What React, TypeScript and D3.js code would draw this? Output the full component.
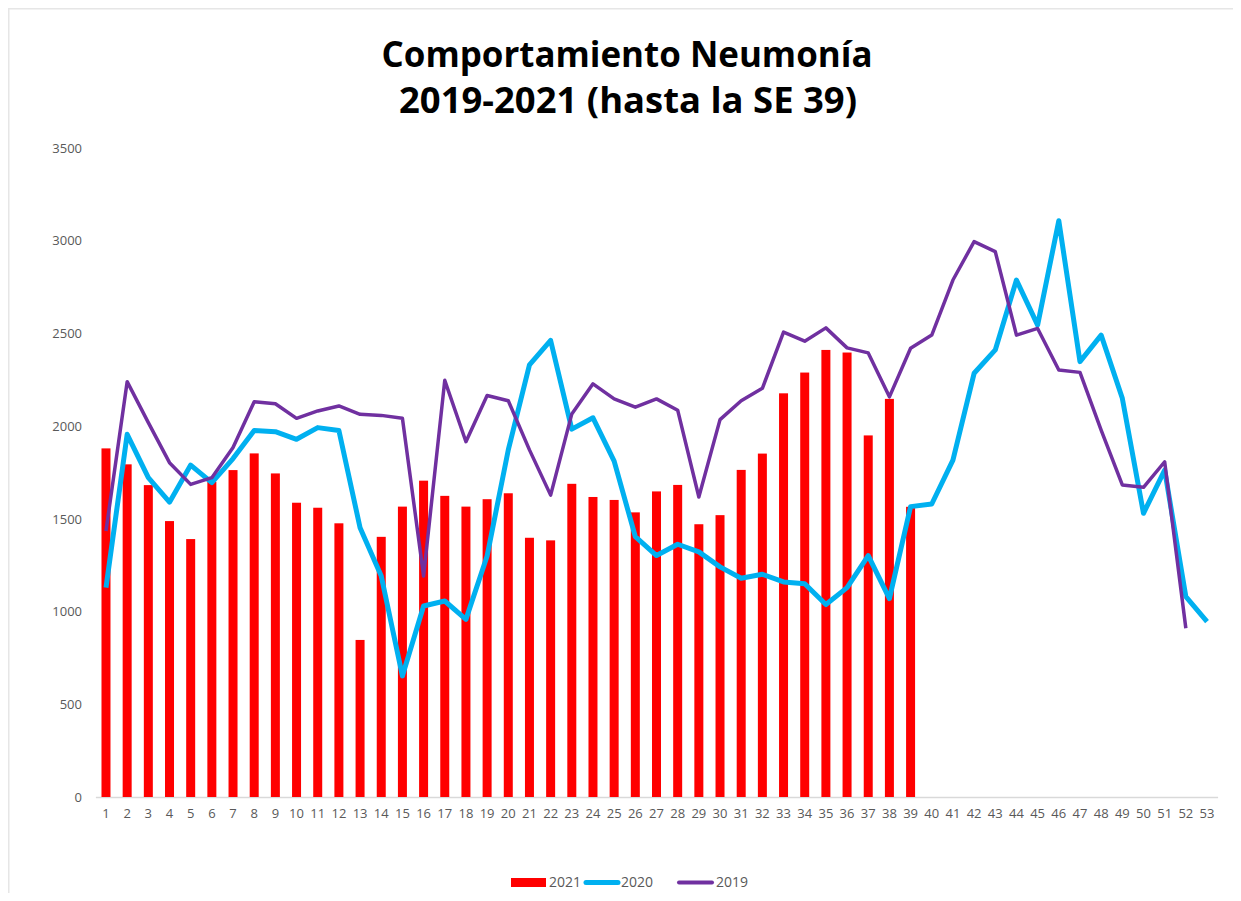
import { useEffect, useRef } from "react";
import * as d3 from "d3";

const weeks = d3.range(1, 54).map(String);

const values2021 = [
  1880, 1794, 1682, 1488, 1391, 1700, 1763, 1853, 1745, 1587, 1560, 1476, 847, 1403, 1566, 1706,
  1624, 1566, 1606, 1638, 1398, 1384, 1689, 1618, 1602, 1535, 1648, 1683, 1471, 1520, 1764, 1852,
  2177, 2289, 2411, 2397, 1950, 2147, 1565,
];

const values2020 = [
  1129, 1956, 1722, 1590, 1790, 1695, 1825, 1977, 1970, 1929, 1992, 1977, 1452, 1192, 653, 1030,
  1057, 958, 1300, 1872, 2330, 2462, 1984, 2045, 1811, 1404, 1302, 1363, 1322, 1241, 1180, 1201,
  1160, 1150, 1038, 1129, 1302, 1070, 1566, 1580, 1817, 2285, 2411, 2788, 2545, 3108, 2348, 2491,
  2150, 1530, 1763, 1080, 946,
];

const values2019 = [
  1435, 2240, 2019, 1803, 1686, 1722, 1885, 2132, 2121, 2042, 2082, 2109, 2064, 2058, 2042, 1192,
  2247, 1916, 2165, 2137, 1872, 1628, 2066, 2228, 2147, 2102, 2147, 2086, 1618, 2035, 2137, 2204,
  2507, 2458, 2530, 2422, 2395, 2158, 2420, 2491, 2788, 2995, 2941, 2491, 2527, 2303, 2290, 1979,
  1683, 1670, 1808, 910,
];

const yTicks = [0, 500, 1000, 1500, 2000, 2500, 3000, 3500];

const width = 1241;
const height = 901;
const axisColor = "#595959";

const App = () => {
  const gx = useRef<SVGGElement>(null);
  const gy = useRef<SVGGElement>(null);

  const x = d3.scaleBand().domain(weeks).range([95.4, 1217.6]).paddingInner(0.575).paddingOuter(0.2875);
  const y = d3.scaleLinear().domain([0, 3500]).range([797, 148]);
  const cx = (i: number) => (x(weeks[i]) as number) + x.bandwidth() / 2;

  const line = d3.line<number>().x((d, i) => cx(i)).y((d) => y(d));

  useEffect(() => {
    const g = d3.select(gx.current);
    g.call(d3.axisBottom(x).tickSize(0).tickPadding(12));
    g.select(".domain").attr("stroke", "#d9d9d9").attr("stroke-width", 1.5);
    g.selectAll("text").attr("fill", axisColor).style("font-size", "13px").style("font-family", "'Open Sans', sans-serif");
  }, []);

  useEffect(() => {
    const g = d3.select(gy.current);
    g.call(d3.axisLeft(y).tickValues(yTicks).tickFormat(d3.format("d")).tickSize(0).tickPadding(0));
    g.select(".domain").remove();
    g.selectAll("text").attr("fill", axisColor).style("font-size", "13px").style("font-family", "'Open Sans', sans-serif");
  }, []);

  return (
    <svg width={width} height={height} style={{ display: "block", margin: "-8px", fontFamily: "'Open Sans', sans-serif" }}>
      <rect width={width} height={height} fill="#fff" />
      <path d={`M8.5,${height}V8.5H${width}`} fill="none" stroke="#e6e6e6" strokeWidth={2} />
      <text x={627} y={67} textAnchor="middle" fontSize={35} fontWeight={700} fill="#000" textLength={491} lengthAdjust="spacingAndGlyphs">
        Comportamiento Neumonía
      </text>
      <text x={628} y={113} textAnchor="middle" fontSize={35} fontWeight={700} fill="#000" textLength={458} lengthAdjust="spacingAndGlyphs">
        2019-2021 (hasta la SE 39)
      </text>

      <g ref={gy} transform="translate(82,0)" />
      <g ref={gx} transform="translate(0,797)" />

      <g fill="#ff0000">
        {values2021.map((d, i) => (
          <rect key={i} x={x(weeks[i])} y={y(d)} width={x.bandwidth()} height={y(0) - y(d)} />
        ))}
      </g>
      <path d={line(values2020) ?? ""} fill="none" stroke="#00b0f0" strokeWidth={5} strokeLinejoin="round" />
      <path d={line(values2019) ?? ""} fill="none" stroke="#7030a0" strokeWidth={3.5} strokeLinejoin="round" />

      <g fontSize={14} fill={axisColor}>
        <rect x={511} y={878} width={35} height={9} fill="#ff0000" />
        <text x={549} y={887}>2021</text>
        <line x1={586} x2={618} y1={882.5} y2={882.5} stroke="#00b0f0" strokeWidth={5} strokeLinecap="round" />
        <text x={621} y={887}>2020</text>
        <line x1={679} x2={712} y1={882.5} y2={882.5} stroke="#7030a0" strokeWidth={4} strokeLinecap="round" />
        <text x={716} y={887}>2019</text>
      </g>
    </svg>
  );
};

export default App;
